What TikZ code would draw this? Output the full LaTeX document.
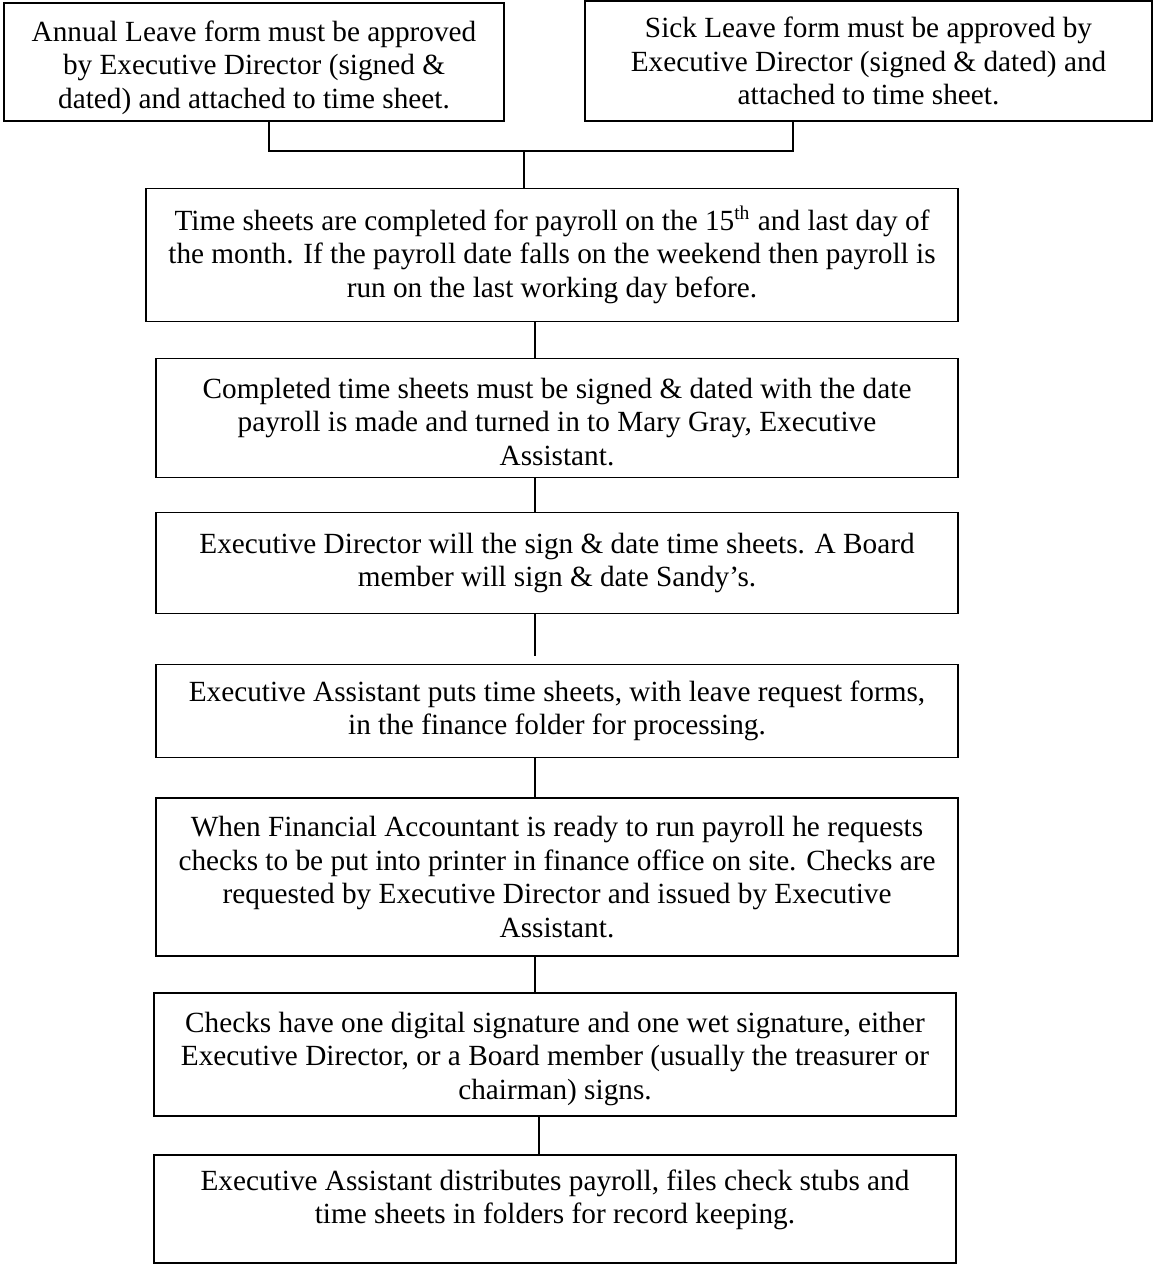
\documentclass[tikz,border=0pt]{standalone}
\usepackage{fontspec}
\setmainfont{Liberation Serif}
\tikzset{
  sheetbox/.style={draw, line width=0.6pt, align=center, inner sep=0pt,
    font=\fontsize{12pt}{13.8pt}\selectfont},
  link/.style={line width=0.6pt}
}
\newcommand{\topstrut}[1]{\rule{0pt}{#1}}
\newcommand{\footstrut}[1]{\rule[-#1]{0pt}{#1}}
\begin{document}
\begin{tikzpicture}[x=0.41pt,y=-0.41pt]
\useasboundingbox (0,0) rectangle (1154,1264);
% leave forms
\node[sheetbox, minimum width=500*0.41pt, minimum height=118*0.41pt] (annual) at (254,62)
  {\topstrut{13.2pt}Annual Leave form must be approved\\ by Executive Director (signed \&\\ dated) and attached to time sheet.};
\node[sheetbox, minimum width=567*0.41pt, minimum height=120*0.41pt] (sick) at (868.5,61)
  {Sick Leave form must be approved by\\ Executive Director (signed \& dated) and\\ attached to time sheet.};
% payroll steps
\node[sheetbox, minimum width=812*0.41pt, minimum height=133*0.41pt] (time) at (552,255)
  {Time sheets are completed for payroll on the 15\textsuperscript{th} and last day of\\ the month. If the payroll date falls on the weekend then payroll is\\ run on the last working day before.};
\node[sheetbox, minimum width=802*0.41pt, minimum height=118.5*0.41pt] (sign) at (557,418)
  {\topstrut{11.5pt}Completed time sheets must be signed \& dated with the date\\ payroll is made and turned in to Mary Gray, Executive\\ Assistant.};
\node[sheetbox, minimum width=802*0.41pt, minimum height=100.5*0.41pt] (approve) at (557,563)
  {Executive Director will the sign \& date time sheets. A Board\\ member will sign \& date Sandy’s.};
\node[sheetbox, minimum width=802*0.41pt, minimum height=92.5*0.41pt] (folder) at (557,711)
  {Executive Assistant puts time sheets, with leave request forms,\\ in the finance folder for processing.};
\node[sheetbox, minimum width=802*0.41pt, minimum height=158*0.41pt] (run) at (557,877)
  {When Financial Accountant is ready to run payroll he requests\\ checks to be put into printer in finance office on site. Checks are\\ requested by Executive Director and issued by Executive\\ Assistant.};
\node[sheetbox, minimum width=802*0.41pt, minimum height=123*0.41pt] (checks) at (555,1054.5)
  {\topstrut{11.8pt}Checks have one digital signature and one wet signature, either\\ Executive Director, or a Board member (usually the treasurer or\\ chairman) signs.};
\node[sheetbox, minimum width=802*0.41pt, minimum height=108*0.41pt] (distribute) at (555,1209)
  {Executive Assistant distributes payroll, files check stubs and\\ time sheets in folders for record keeping.\footstrut{10pt}};
% connectors
\coordinate (annualfoot) at (269,151);
\coordinate (sickfoot) at (793,151);
\coordinate (merge) at (524,151);
\coordinate (spine) at (535,0);
\coordinate (spinelast) at (539,0);
\draw[link] (annualfoot |- annual.south) -- (annualfoot) -- (sickfoot) -- (sickfoot |- sick.south);
\draw[link] (merge) -- (merge |- time.north);
\foreach \a/\b in {time/sign, sign/approve, folder/run, run/checks}
{   \draw[link] (spine |- \a.south) -- (spine |- \b.north);
}
\draw[link, shorten >=3.3pt] (spine |- approve.south) -- (spine |- folder.north);
\draw[link] (spinelast |- checks.south) -- (spinelast |- distribute.north);
\end{tikzpicture}
\end{document}
